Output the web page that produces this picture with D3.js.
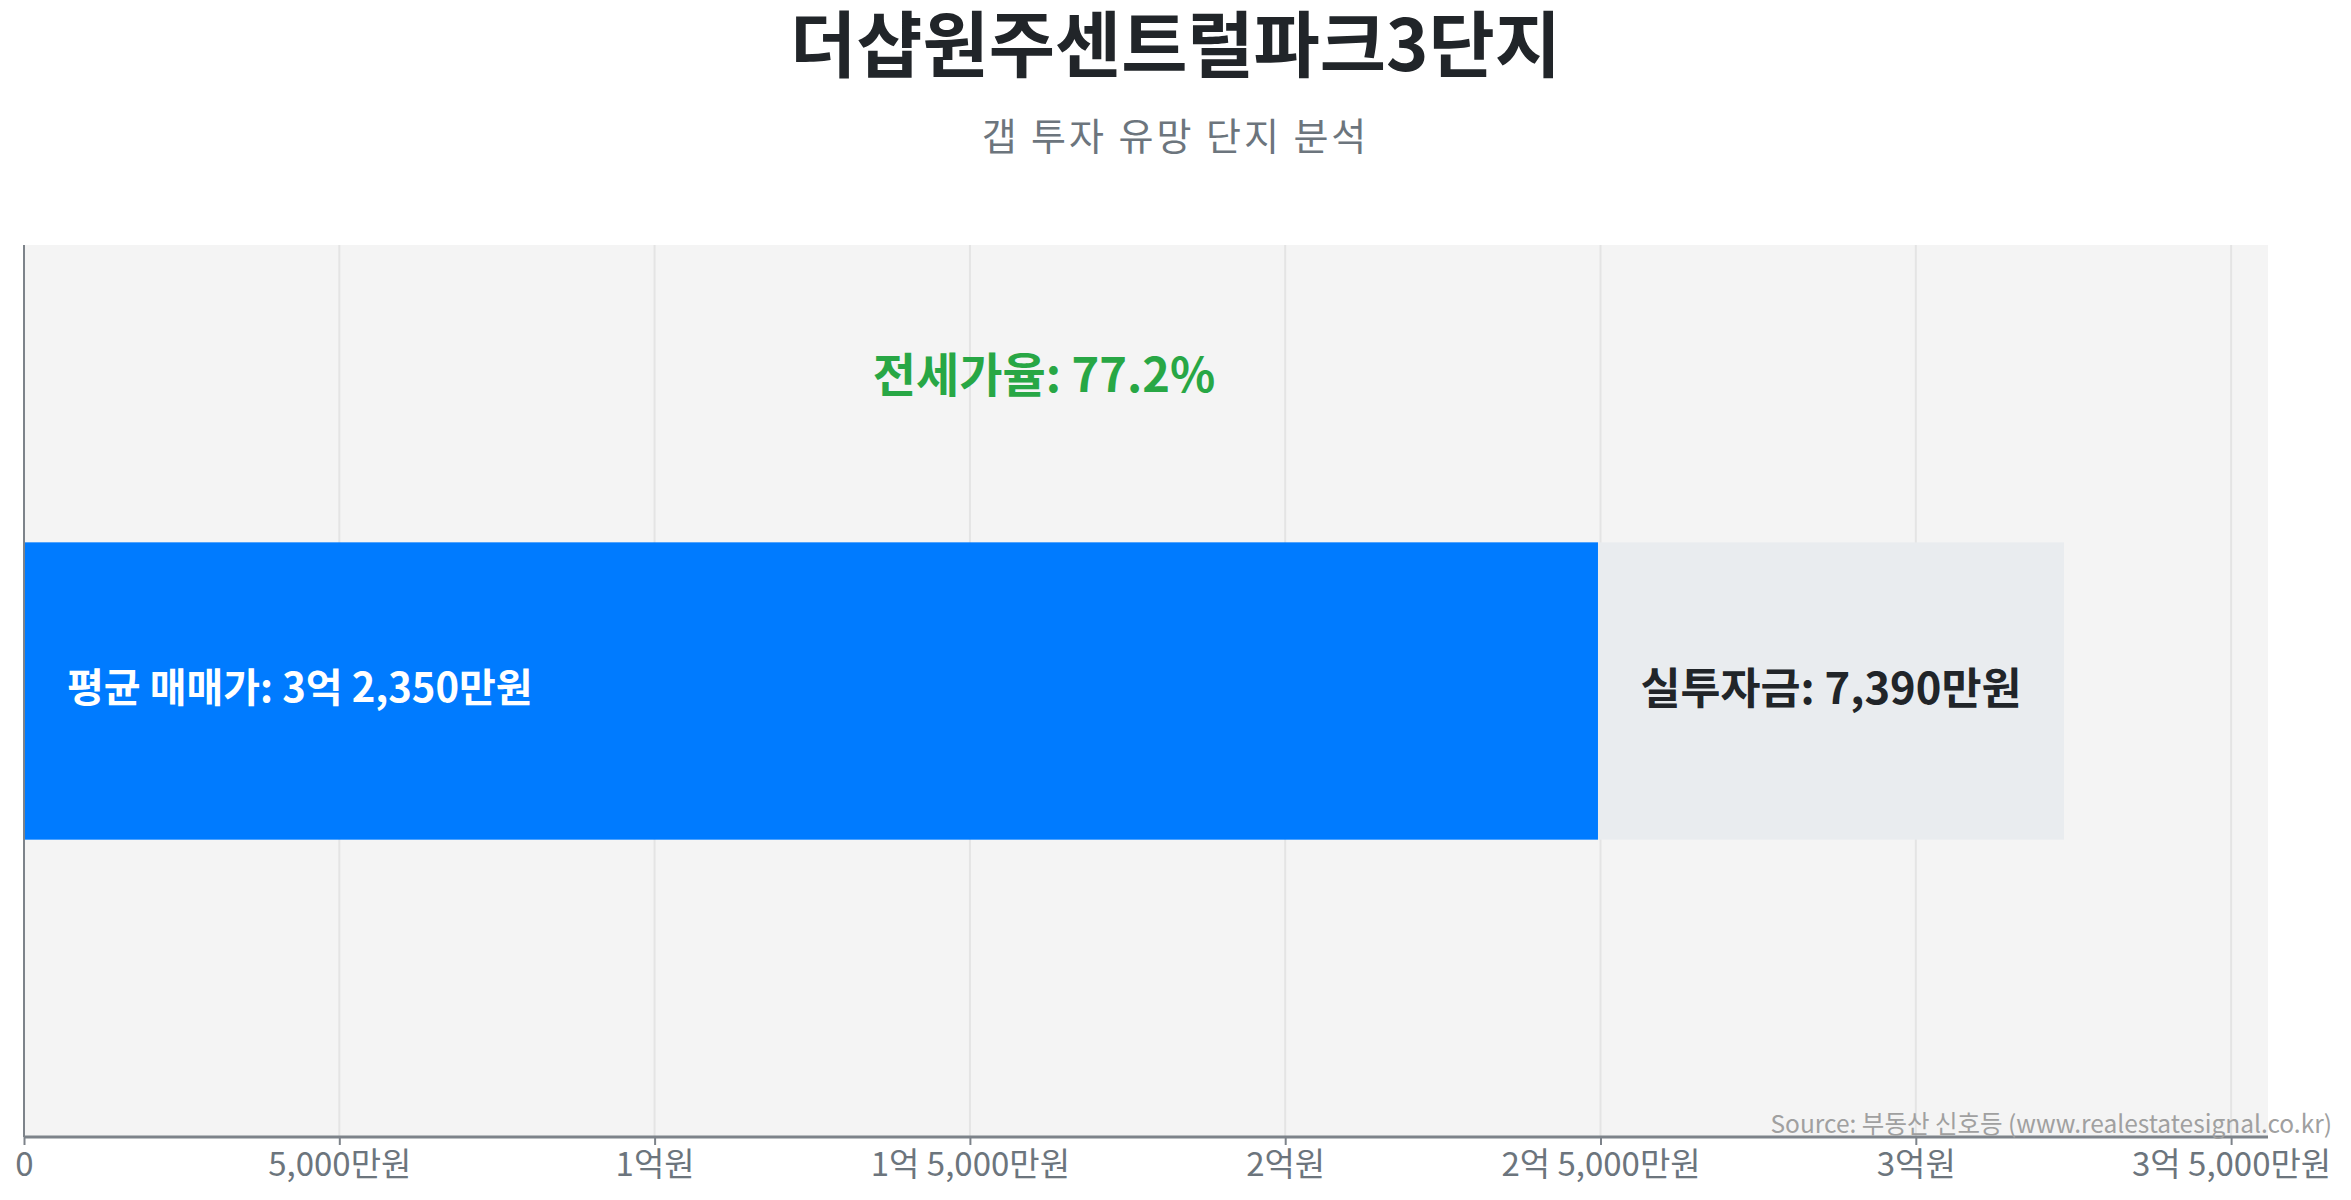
<!DOCTYPE html>
<html>
<head>
<meta charset="utf-8">
<script src="https://cdn.jsdelivr.net/npm/d3@7"></script>
<style>
  body { margin: 0; background: #fff; }
  svg { display: block; font-family: "Noto Sans CJK KR", "Noto Sans", sans-serif; }
</style>
</head>
<body>
<script>
// values in 만원
var titleText = "더샵원주센트럴파크3단지";
var subtitleText = "갭 투자 유망 단지 분석";
var categories = ["더샵원주센트럴파크3단지"];
var salePrice = [32350];
var jeonsePrice = [24960];
var investAmount = [7390];
var jeonseRatio = [77.2];
var tickValues = [0, 5000, 10000, 15000, 20000, 25000, 30000, 35000];
var sourceText = "Source: 부동산 신호등 (www.realestatesignal.co.kr)";

var W = 2351, H = 1200;
var plotL = 24, plotR = 2268, plotT = 245, plotB = 1137;

function won(v) {
  if (v == 0) return "0";
  var eok = Math.floor(v / 10000), man = v % 10000;
  var s = "";
  if (eok > 0) s += eok + "억";
  if (man > 0) s += (eok > 0 ? " " : "") + d3.format(",")(man) + "만원";
  else s += "원";
  return s;
}

var svg = d3.select("body").append("svg")
  .attr("width", W)
  .attr("height", H);

svg.append("text")
  .attr("x", W / 2).attr("y", 39)
  .attr("text-anchor", "middle")
  .attr("dominant-baseline", "central")
  .attr("font-size", 72)
  .attr("font-weight", 700)
  .attr("fill", "#212529")
  .text(titleText);

svg.append("text")
  .attr("x", W / 2).attr("y", 133)
  .attr("text-anchor", "middle")
  .attr("dominant-baseline", "central")
  .attr("font-size", 38)
  .attr("letter-spacing", 3)
  .attr("fill", "#6c757d")
  .text(subtitleText);

var x = d3.scaleLinear()
  .domain([0, d3.max(salePrice) * 1.1])
  .range([plotL, plotR]);

var y = d3.scaleBand()
  .domain(categories)
  .range([plotT, plotB])
  .paddingInner(0.5)
  .paddingOuter(0.5);

// plot background
svg.append("rect")
  .attr("x", plotL).attr("y", plotT)
  .attr("width", plotR - plotL).attr("height", plotB - plotT)
  .attr("fill", "#f4f4f4");

// grid
svg.append("g")
  .selectAll("line")
  .data(tickValues)
  .enter()
  .append("line")
  .attr("x1", d => x(d)).attr("x2", d => x(d))
  .attr("y1", plotT).attr("y2", plotB)
  .attr("stroke", "#e4e4e4")
  .attr("stroke-width", 2);

// bars
svg.append("g")
  .selectAll("rect")
  .data(categories)
  .enter()
  .append("rect")
  .attr("x", x(0))
  .attr("y", d => y(d))
  .attr("width", (d, i) => x(jeonsePrice[i]) - x(0))
  .attr("height", y.bandwidth())
  .attr("fill", "#007bff");

svg.append("g")
  .selectAll("rect")
  .data(categories)
  .enter()
  .append("rect")
  .attr("x", (d, i) => x(jeonsePrice[i]))
  .attr("y", d => y(d))
  .attr("width", (d, i) => x(jeonsePrice[i] + investAmount[i]) - x(jeonsePrice[i]))
  .attr("height", y.bandwidth())
  .attr("fill", "#e9ecef");

// bar labels
svg.append("g")
  .selectAll("text")
  .data(categories)
  .enter()
  .append("text")
  .attr("x", x(0) + 43)
  .attr("y", d => y(d) + y.bandwidth() / 2 - 6)
  .attr("dominant-baseline", "central")
  .attr("font-size", 40)
  .attr("font-weight", 700)
  .attr("fill", "#fff")
  .text((d, i) => "평균 매매가: " + won(salePrice[i]));

svg.append("g")
  .selectAll("text")
  .data(categories)
  .enter()
  .append("text")
  .attr("x", (d, i) => x(jeonsePrice[i] + investAmount[i] / 2))
  .attr("y", d => y(d) + y.bandwidth() / 2 - 6)
  .attr("text-anchor", "middle")
  .attr("dominant-baseline", "central")
  .attr("font-size", 43.5)
  .attr("font-weight", 700)
  .attr("fill", "#212529")
  .text((d, i) => "실투자금: " + d3.format(",")(investAmount[i]) + "만원");

svg.append("g")
  .selectAll("text")
  .data(categories)
  .enter()
  .append("text")
  .attr("x", (d, i) => x(salePrice[i] / 2))
  .attr("y", 371)
  .attr("text-anchor", "middle")
  .attr("dominant-baseline", "central")
  .attr("font-size", 47)
  .attr("font-weight", 700)
  .attr("fill", "#28a745")
  .text((d, i) => "전세가율: " + jeonseRatio[i] + "%");

// axes
var xAxis = svg.append("g")
  .attr("transform", "translate(0," + plotB + ")")
  .call(d3.axisBottom(x).tickValues(tickValues).tickFormat(won).tickSize(8).tickPadding(8));
xAxis.select(".domain").attr("stroke", "#7d838a").attr("stroke-width", 3)
  .attr("d", "M" + plotL + ",0H" + plotR);
xAxis.selectAll(".tick line").attr("stroke", "#7d838a").attr("stroke-width", 2);
xAxis.selectAll(".tick text")
  .attr("font-family", "Noto Sans CJK KR")
  .attr("font-size", 33)
  .attr("fill", "#6c757d");

svg.append("line")
  .attr("x1", plotL).attr("x2", plotL)
  .attr("y1", plotT).attr("y2", plotB)
  .attr("stroke", "#7d838a")
  .attr("stroke-width", 2);

svg.append("text")
  .attr("x", 2332).attr("y", 1122)
  .attr("text-anchor", "end")
  .attr("dominant-baseline", "central")
  .attr("font-size", 24.5)
  .attr("fill", "#a0a0a0")
  .text(sourceText);
</script>
</body>
</html>
